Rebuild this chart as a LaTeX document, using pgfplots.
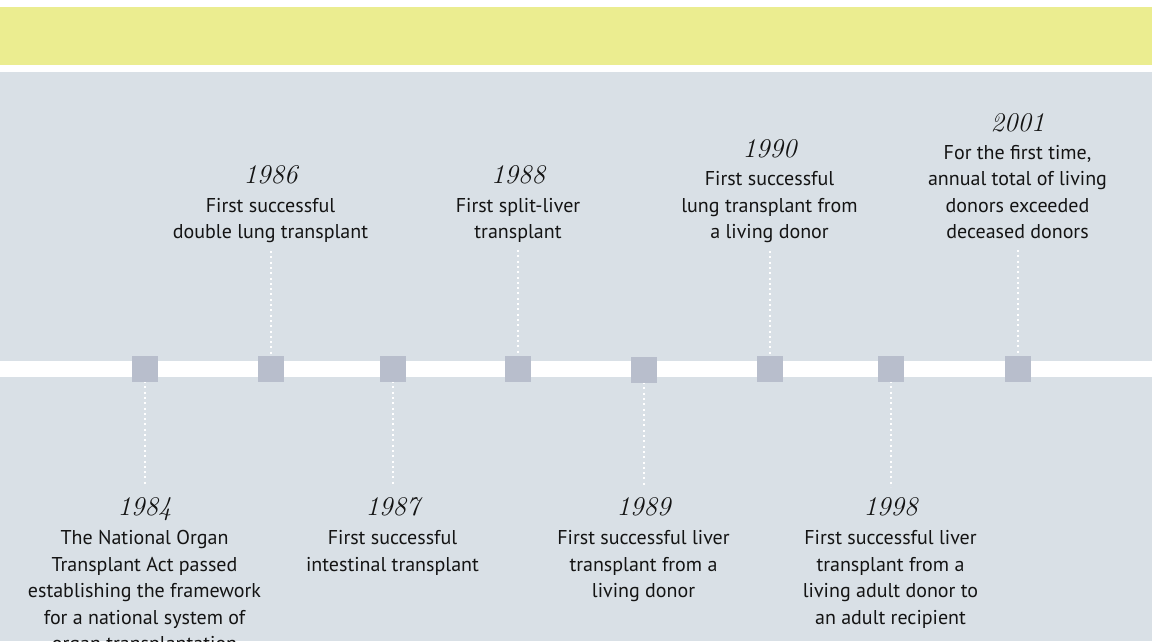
\documentclass[border=0pt]{standalone}
\usepackage{pgfplots}
\pgfplotsset{compat=1.18}
\usepackage{fontspec}
\newfontfamily\descfamily{PT Sans}
\definecolor{yel}{RGB}{235,237,144}
\definecolor{gr}{RGB}{217,224,230}
\definecolor{sq}{RGB}{184,190,204}
\definecolor{txt}{RGB}{20,20,20}
\newcommand{\desc}{\descfamily\fontsize{20}{24}\selectfont}
\newcommand{\yr}{\itshape\fontsize{27}{30}\selectfont}
\begin{document}
\begin{tikzpicture}
\begin{axis}[width=1152pt,height=641pt,scale only axis,
  xmin=0,xmax=1152,ymin=0,ymax=641,y dir=reverse,hide axis,clip=true]
\fill[white] (axis cs:0,0) rectangle (axis cs:1152,641);
\fill[yel] (axis cs:0,7) rectangle (axis cs:1152,65);
\fill[gr] (axis cs:0,72) rectangle (axis cs:1152,641);
\fill[white] (axis cs:0,360.5) rectangle (axis cs:1152,376.5);
% dotted connectors
\pgfplotsset{conn/.style={white,line width=2pt,dash pattern=on 2pt off 3.3pt,forget plot}}
\addplot[conn] coordinates {(270.5,251) (270.5,356)};
\addplot[conn] coordinates {(518,250) (518,356)};
\addplot[conn] coordinates {(769.5,251) (769.5,356)};
\addplot[conn] coordinates {(1017.5,250) (1017.5,356)};
\addplot[conn] coordinates {(144.5,381) (144.5,485)};
\addplot[conn] coordinates {(392.5,381) (392.5,485)};
\addplot[conn] coordinates {(643.5,382) (643.5,487)};
\addplot[conn] coordinates {(890.5,381) (890.5,487)};
% milestone squares
\addplot[only marks,mark=square*,mark size=12.5pt,mark options={draw=sq,fill=sq,line width=0pt}]
  coordinates {(144.5,368.5) (270.5,368.5) (392.5,368.5) (518,368.5)
               (643.5,369.5) (769.5,368.5) (890.5,368.5) (1017.5,368.5)};
% labels
\tikzset{lb/.style={anchor=base,text=txt,inner sep=0pt,font=\desc},
         yl/.style={anchor=base,text=txt,inner sep=0pt,font=\yr}}
% 1984
\node[yl] at (axis cs:144.5,515) {1984};
\node[lb] at (axis cs:144.5,544.5) {The National Organ};
\node[lb] at (axis cs:144.5,571) {Transplant Act passed};
\node[lb] at (axis cs:144.5,597.5) {establishing the framework};
\node[lb] at (axis cs:144.5,624) {for a national system of};
\node[lb] at (axis cs:144.5,650.5) {organ transplantation};
% 1986
\node[yl] at (axis cs:270.5,183) {1986};
\node[lb] at (axis cs:270.5,212) {First successful};
\node[lb] at (axis cs:270.5,238.5) {double lung transplant};
% 1987
\node[yl] at (axis cs:392.5,515) {1987};
\node[lb] at (axis cs:392.5,544.5) {First successful};
\node[lb] at (axis cs:392.5,571) {intestinal transplant};
% 1988
\node[yl] at (axis cs:518,183) {1988};
\node[lb] at (axis cs:518,212) {First split-liver};
\node[lb] at (axis cs:518,238.5) {transplant};
% 1989
\node[yl] at (axis cs:643.5,515) {1989};
\node[lb] at (axis cs:643.5,544.5) {First successful liver};
\node[lb] at (axis cs:643.5,571) {transplant from a};
\node[lb] at (axis cs:643.5,597.5) {living donor};
% 1990
\node[yl] at (axis cs:769.5,157) {1990};
\node[lb] at (axis cs:769.5,185.5) {First successful};
\node[lb] at (axis cs:769.5,212) {lung transplant from};
\node[lb] at (axis cs:769.5,238.5) {a living donor};
% 1998
\node[yl] at (axis cs:890.5,515) {1998};
\node[lb] at (axis cs:890.5,544.5) {First successful liver};
\node[lb] at (axis cs:890.5,571) {transplant from a};
\node[lb] at (axis cs:890.5,597.5) {living adult donor to};
\node[lb] at (axis cs:890.5,624) {an adult recipient};
% 2001
\node[yl] at (axis cs:1017.5,131) {2001};
\node[lb] at (axis cs:1017.5,159) {For the first time,};
\node[lb] at (axis cs:1017.5,185.5) {annual total of living};
\node[lb] at (axis cs:1017.5,212) {donors exceeded};
\node[lb] at (axis cs:1017.5,238.5) {deceased donors};
\end{axis}
\pgfresetboundingbox
\path (current axis.south west) rectangle (current axis.north east);
\end{tikzpicture}
\end{document}
